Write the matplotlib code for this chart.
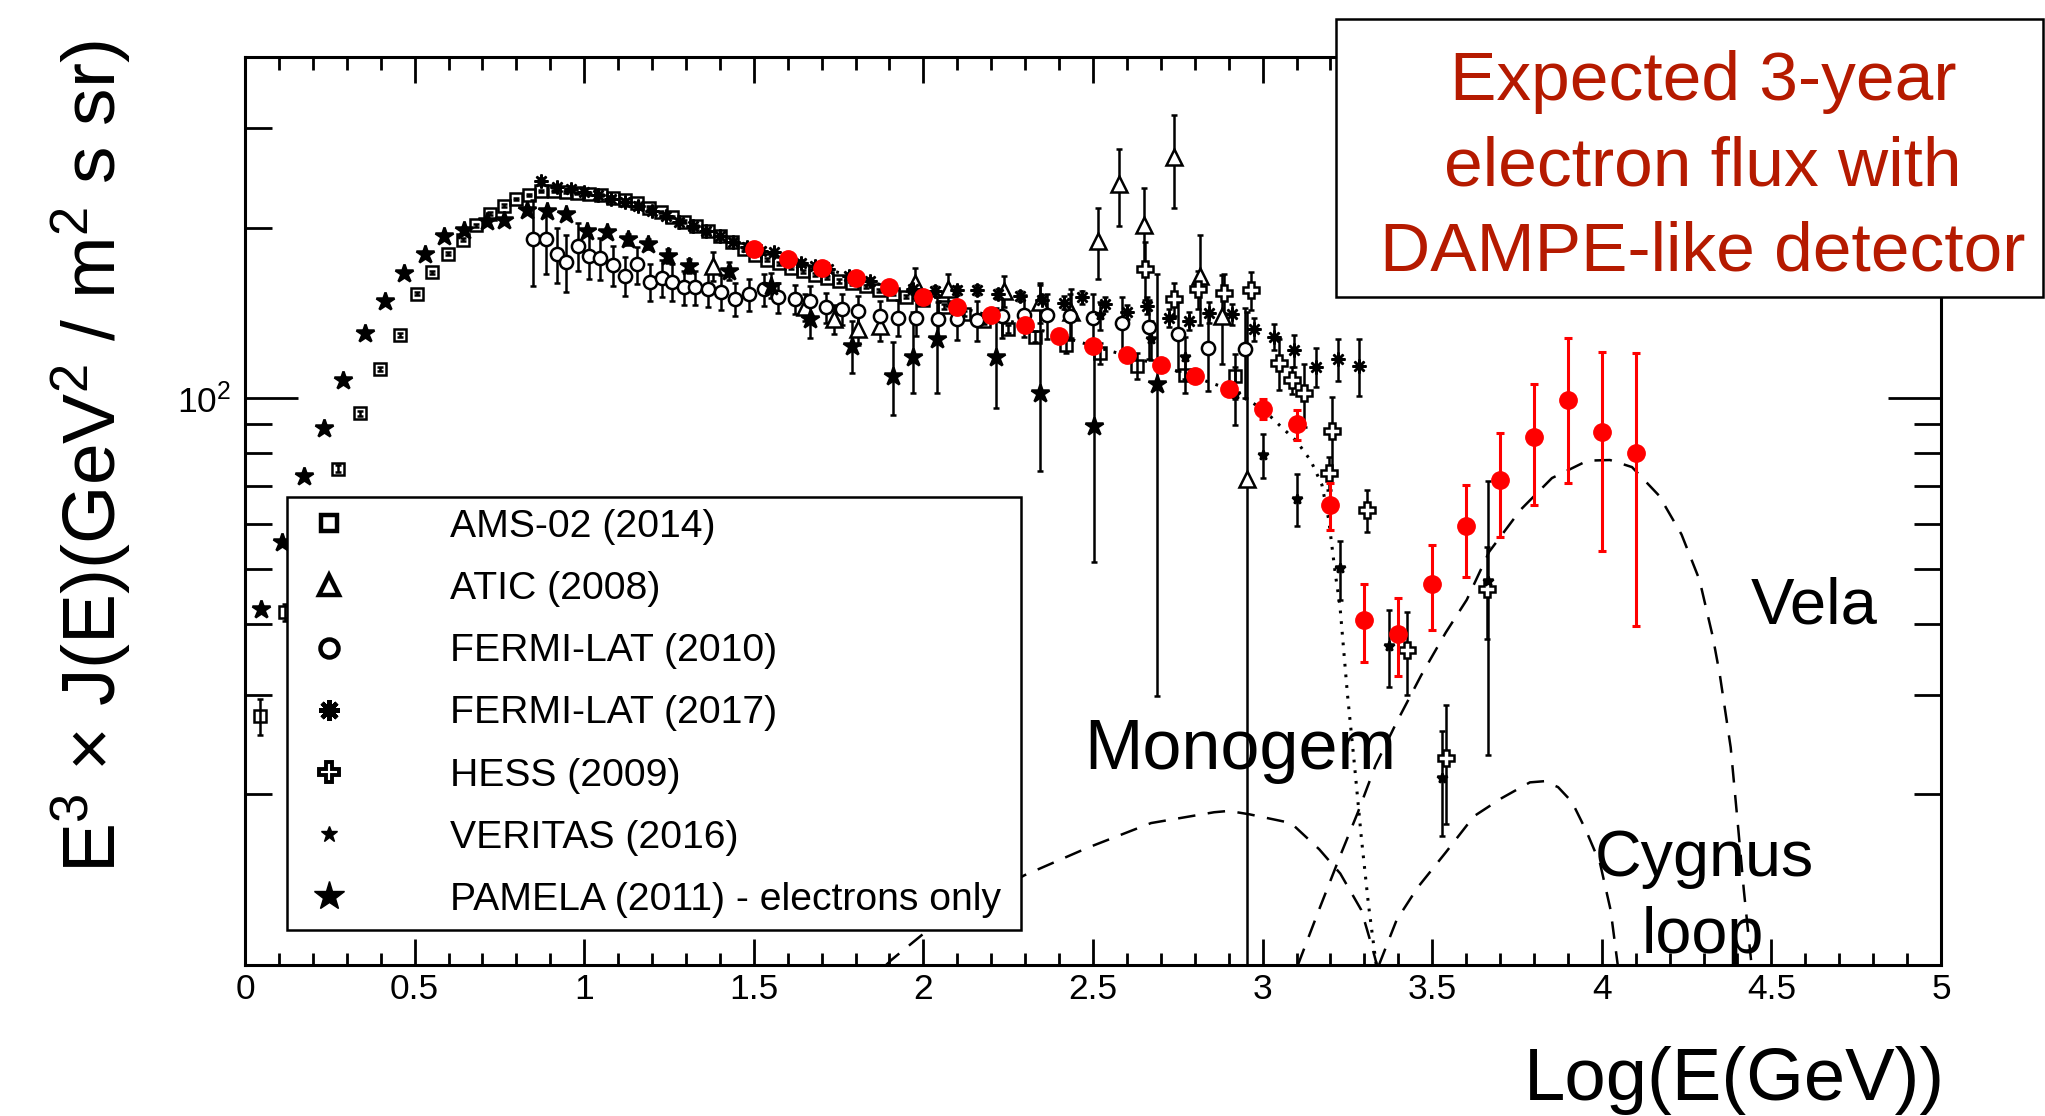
import matplotlib
matplotlib.use("Agg")
import matplotlib.pyplot as plt
from matplotlib.lines import Line2D
from matplotlib.patches import Rectangle
from matplotlib.ticker import FixedLocator, FixedFormatter, MultipleLocator, FormatStrFormatter

plt.rcParams['font.family'] = ['Liberation Sans', 'DejaVu Sans']
plt.rcParams['mathtext.fontset'] = 'custom'
plt.rcParams['mathtext.rm'] = 'Liberation Sans'
plt.rcParams['mathtext.it'] = 'Liberation Sans:italic'
plt.rcParams['mathtext.default'] = 'regular'

# ---- data (x = log10(E/GeV), y = E^3 J(E)) ----
# AMS-02 (2014)
ams_x = [0.045, 0.117, 0.17, 0.225, 0.274, 0.339, 0.398, 0.457, 0.506, 0.552,
         0.598, 0.643, 0.682, 0.722, 0.765, 0.80, 0.837, 0.873, 0.91, 0.945,
         0.98, 1.015, 1.05, 1.085, 1.12, 1.155, 1.19, 1.225, 1.26, 1.295,
         1.33, 1.365, 1.40, 1.435, 1.47, 1.505, 1.54, 1.575, 1.61, 1.645,
         1.68, 1.715, 1.75, 1.79, 1.83, 1.87, 1.91, 1.95, 2.0, 2.06,
         2.12, 2.18, 2.25, 2.33, 2.42, 2.52, 2.63, 2.77, 2.92]
ams_y = [27.5, 41.9, 52, 63, 75.1, 94, 112.7, 129.4, 152.8, 166.7,
         179.8, 190.5, 201.9, 211.8, 218.8, 224.3, 228, 231.8, 232, 231,
         230, 229, 228, 226, 224, 221, 217, 213, 209, 205,
         201, 197, 193, 189, 183, 179, 175.5, 173, 170, 167.5,
         165, 163, 161, 159.5, 157.5, 155, 153, 151, 149, 145,
         141, 137, 132.5, 128.5, 124, 120, 114, 110, 109.5]
ams_err = [2, 1.5, 1, 1, 1, 1, 1, 1, 1, 1,
           1, 1, 1, 1, 1, 1, 1, 1, 1, 1,
           1, 1, 1, 1, 1, 1, 1, 1, 1, 1,
           1, 1, 1, 1, 1, 1, 1, 1, 1, 1,
           1, 1, 1, 1, 1, 1, 1, 1, 1.5, 1.5,
           1.5, 2, 2, 3, 4, 5, 6, 8, 10]

# ATIC (2008)
atic_x = [1.38, 1.651, 1.737, 1.807, 1.872, 1.974, 2.072, 2.237, 2.343, 2.435,
          2.514, 2.576, 2.65, 2.74, 2.815, 2.879, 2.954]
atic_y = [171, 144.6, 137.8, 132.3, 134.3, 160, 155.6, 154.6, 147.9, 141.9,
          189.2, 238.3, 201.8, 266.6, 164.4, 139.7, 72]
atic_err = [10, 8, 8, 8, 8, 10, 10, 10, 12, 14,
            27, 37, 33, 50, 30, 25, 70]

# FERMI-LAT (2010)
f10_x = [0.85, 0.886, 0.919, 0.946, 0.982, 1.015, 1.048, 1.085, 1.12, 1.157,
         1.193, 1.228, 1.259, 1.294, 1.327, 1.366, 1.404, 1.445, 1.485, 1.531,
         1.57, 1.621, 1.665, 1.714, 1.761, 1.807, 1.872, 1.925, 1.978, 2.043,
         2.1, 2.158, 2.231, 2.297, 2.363, 2.432, 2.5, 2.586, 2.665, 2.751,
         2.839, 2.948]
f10_y = [190.6, 190.6, 180, 174, 185.9, 178, 176.5, 171.5, 164.4, 172.2,
         160.6, 163, 160.5, 157, 157, 155.6, 154, 149.6, 152.5, 155.6,
         150.6, 149.6, 148.6, 144.6, 143.6, 142.6, 139.7, 138.8, 138.8, 137.8,
         137.8, 137.4, 139.7, 140, 140, 139.7, 138.8, 136, 133.3, 129.8,
         122.8, 122]
f10_err = [33, 25, 20, 20, 18, 16, 15, 14, 13, 13,
           12, 12, 12, 11, 11, 11, 11, 10, 10, 10,
           9, 9, 9, 9, 9, 9, 9, 10, 10, 10,
           11, 11, 12, 12, 13, 13, 14, 15, 16, 18,
           20, 22]

# FERMI-LAT (2017)
f17_x = [0.873, 0.92, 0.96, 1.0, 1.04, 1.08, 1.12, 1.16, 1.2, 1.24,
         1.28, 1.32, 1.36, 1.40, 1.44, 1.48, 1.52, 1.56, 1.60, 1.64,
         1.68, 1.72, 1.78, 1.843, 1.90, 1.97, 2.034, 2.10, 2.158, 2.22,
         2.284, 2.35, 2.415, 2.468, 2.534, 2.6, 2.659, 2.724, 2.783, 2.842,
         2.909, 2.975, 3.034, 3.093, 3.157, 3.221, 3.283]
f17_y = [241.5, 236, 234, 231, 228, 225, 222, 218, 214, 210,
         205, 201, 197, 193, 189, 185, 182, 180.8, 176, 173,
         171, 169, 164, 161, 158, 156, 154.6, 155, 155.2, 153,
         151.4, 149, 147.5, 150.6, 146.6, 141.9, 145.6, 138.8, 136.9, 141.6,
         140.6, 132.3, 128.4, 121.4, 113.7, 117.3, 114]
f17_err = [3, 2, 2, 2, 2, 2, 2, 2, 2, 2,
           2, 2, 2, 2, 2, 2, 2, 2, 2, 2,
           2, 2, 2, 2, 2, 3, 3, 3, 3, 3,
           3, 3, 4, 4, 4, 4, 5, 5, 5, 6,
           6, 6, 7, 8, 9, 10, 13]

# HESS (2009)
hess_x = [2.652, 2.738, 2.81, 2.885, 2.966, 3.047, 3.087, 3.123, 3.196, 3.205,
          3.307, 3.426, 3.54, 3.662]
hess_y = [169, 149.6, 155.6, 153.5, 155, 115.3, 107.7, 102, 73.8, 87.4,
          63.5, 36, 23.2, 46.1]
hess_err = [20, 10, 12, 12, 12, 12, 6, 13, 5, 13,
            5.5, 6, 5.5, 8.5]

# VERITAS (2016)
ver_x = [2.52, 2.67, 2.77, 2.92, 3.0, 3.1, 3.227, 3.374, 3.529, 3.665]
ver_y = [140, 127, 118, 101.7, 79.4, 66.4, 50.1, 36.6, 21.4, 47.5]
ver_err = [8, 10, 10, 12, 7, 7, 6, 5.7, 4.5, 24]

# PAMELA (2011) - electrons only
pam_x = [0.047, 0.11, 0.173, 0.232, 0.289, 0.353, 0.412, 0.469, 0.532, 0.587,
         0.646, 0.712, 0.765, 0.83, 0.89, 0.946, 1.008, 1.066, 1.128, 1.188,
         1.247, 1.31, 1.428, 1.55, 1.665, 1.79, 1.91, 1.97, 2.04, 2.215,
         2.345, 2.503, 2.69]
pam_y = [42.5, 55.7, 72.9, 88.7, 107.8, 130.2, 148.4, 166, 180, 193.5,
         198.3, 205.6, 206.2, 214.6, 214.1, 211, 197, 196.3, 190.6, 187,
         178.3, 171, 167.6, 158, 137.8, 123.6, 109.5, 118, 127, 118,
         102.3, 89.4, 105.8]
pam_lo = [0.5, 0.5, 1, 1, 1, 1.5, 1.5, 2, 2, 2,
          2, 2, 2, 2.5, 2.5, 3, 3, 3, 4, 4,
          5, 5, 6, 8, 10, 13, 16, 16, 25, 22,
          28, 38, 76]
pam_hi = [0.5, 0.5, 1, 1, 1, 1.5, 1.5, 2, 2, 2,
          2, 2, 2, 2.5, 2.5, 3, 3, 3, 4, 4,
          5, 5, 6, 8, 10, 13, 16, 24, 24, 26,
          56, 34, 60]

# expected 3-year DAMPE-like measurement
red_x = [1.5, 1.6, 1.7, 1.8, 1.9, 2.0, 2.1, 2.2, 2.3, 2.4,
         2.5, 2.6, 2.7, 2.8, 2.9, 3.0, 3.1, 3.2, 3.3, 3.4,
         3.5, 3.6, 3.7, 3.8, 3.9, 4.0, 4.1]
red_y = [183.5, 176, 170, 163, 157, 151, 145, 140, 134.5, 129,
         123.6, 119, 114.3, 109.3, 103.8, 95.8, 90, 64.8, 40.6, 38.4,
         47, 59.4, 71.8, 85.3, 99.2, 87.3, 80]
red_err = [0.8, 0.8, 0.8, 0.8, 0.9, 0.9, 1, 1, 1.1, 1.2,
           1.3, 1.4, 1.6, 1.8, 2.2, 3.8, 5.5, 6.2, 6.4, 6,
           8, 11, 15, 20.5, 28.3, 33.5, 40.4]

# model curves
bkg_x = [1.5, 1.7, 1.9, 2.1, 2.3, 2.5, 2.7, 2.9, 3.0, 3.05,
         3.1, 3.142, 3.175, 3.195, 3.214, 3.228, 3.25, 3.271, 3.291, 3.312, 3.335]
bkg_y = [183.5, 170, 157, 145, 134.5, 123.6, 114.3, 103.8, 95.8, 89.6,
         84, 77.6, 70.3, 61, 49.2, 43, 30.1, 22.5, 16.8, 12.8, 10]
mono_x = [1.89, 1.905, 2.019, 2.298, 2.484, 2.671, 2.857, 2.9, 2.96, 3.084,
          3.167, 3.229, 3.291, 3.322, 3.337]
mono_y = [10, 10.2, 11.6, 14.4, 16.1, 17.8, 18.6, 18.7, 18.45, 17.8,
          16, 14.5, 12.5, 10.8, 10]
vela_x = [3.104, 3.166, 3.229, 3.281, 3.333, 3.395, 3.467, 3.54, 3.602, 3.668,
          3.761, 3.853, 3.958, 4.024, 4.089, 4.169, 4.235, 4.288, 4.327, 4.348,
          4.38, 4.4, 4.419, 4.44]
vela_y = [10, 12.5, 15.6, 18.6, 22.5, 26.8, 32.4, 38.6, 44.1, 53.6,
          63.6, 72.3, 77.6, 77.8, 75.6, 67.3, 57.5, 47.8, 38, 32.5,
          24.2, 18, 13.5, 10.2]
cyg_x = [3.343, 3.395, 3.457, 3.54, 3.623, 3.705, 3.788, 3.83, 3.871, 3.912,
         3.953, 3.995, 4.026, 4.047]
cyg_y = [10, 12, 13.7, 15.8, 18.3, 19.7, 21, 21.1, 20.6, 19.4,
         17.3, 15.1, 12.5, 10]

labels = ['AMS-02 (2014)', 'ATIC (2008)', 'FERMI-LAT (2010)', 'FERMI-LAT (2017)',
          'HESS (2009)', 'VERITAS (2016)', 'PAMELA (2011) - electrons only']

W, H = 2045, 1116
fig = plt.figure(figsize=(W / 100, H / 100), dpi=100)
ax = fig.add_axes([245 / W, 1 - 965 / H, (1941 - 245) / W, (965 - 57) / H])
ax.set_yscale('log')
ax.set_xlim(0, 5)
ax.set_ylim(10, 400)

dash = (0, (7, 5))
ax.plot(bkg_x, bkg_y, color='k', lw=2.2, ls=(0, (0.9, 2.6)), zorder=2)
ax.plot(mono_x, mono_y, color='k', lw=1.8, ls=dash, zorder=2)
ax.plot(vela_x, vela_y, color='k', lw=1.8, ls=dash, zorder=2)
ax.plot(cyg_x, cyg_y, color='k', lw=1.8, ls=dash, zorder=2)

ebar = dict(ls='none', color='k', ecolor='k', elinewidth=1.8, capsize=2.5,
            capthick=1.8, mec='k', mew=1.8, zorder=3)
ax.errorbar(ams_x, ams_y, yerr=ams_err, marker='s', ms=9, mfc='none', **ebar)
ax.errorbar(atic_x, atic_y, yerr=atic_err, marker='^', ms=11, mfc='white', **ebar)
ax.errorbar(f10_x, f10_y, yerr=f10_err, marker='o', ms=9.5, mfc='white', **ebar)
ax.errorbar(f17_x, f17_y, yerr=f17_err, marker=(8, 2, 0), ms=10, **ebar)
ax.errorbar(hess_x, hess_y, yerr=hess_err, marker='P', ms=11, mfc='white', **ebar)
ax.errorbar(ver_x, ver_y, yerr=ver_err, marker='*', ms=7, mfc='k', **ebar)
ax.errorbar(pam_x, pam_y, yerr=[pam_lo, pam_hi], marker='*', ms=13.5, mfc='k', **ebar)

ax.errorbar(red_x, red_y, yerr=red_err, ls='none', marker='o', ms=12.5, color='#ff0000',
            mec='#ff0000', elinewidth=2.2, capsize=3, capthick=2.2, zorder=4)

# source labels
ax.text(2.473, 22.2, 'Monogem', fontsize=50.5, ha='left', va='baseline', zorder=5)
ax.text(4.44, 40.1, 'Vela', fontsize=47, ha='left', va='baseline', zorder=5)
ax.text(3.98, 14.36, 'Cygnus', fontsize=46.5, ha='left', va='baseline', zorder=5)
ax.text(4.118, 10.5, 'loop', fontsize=46.5, ha='left', va='baseline', zorder=5)

# axes styling
ax.xaxis.set_major_locator(MultipleLocator(0.5))
ax.xaxis.set_minor_locator(MultipleLocator(0.1))
ax.xaxis.set_major_formatter(FormatStrFormatter('%g'))
ax.yaxis.set_major_locator(FixedLocator([100]))
ax.yaxis.set_major_formatter(FixedFormatter(['10$^{2}$']))
ax.yaxis.set_minor_locator(FixedLocator([20, 30, 40, 50, 60, 70, 80, 90, 200, 300]))
ax.yaxis.set_minor_formatter(FixedFormatter([''] * 10))
ax.tick_params(which='both', direction='in', top=True, right=True, width=2, labelsize=25.5)
ax.xaxis.set_tick_params(which='major', length=18.5, pad=6)
ax.xaxis.set_tick_params(which='minor', length=9)
ax.yaxis.set_tick_params(which='major', length=38, pad=10)
ax.yaxis.set_tick_params(which='minor', length=19.5)
for s in ax.spines.values():
    s.set_linewidth(2.2)

fig.text(1945 / W, 1 - 1100 / H, 'Log(E(GeV))', fontsize=53.5, ha='right', va='baseline')
fig.text(92 / W, 1 - 40 / H, 'E$^{3}$ × J(E)(GeV$^{2}$ / m$^{2}$ s sr)',
         fontsize=54, rotation=90, ha='center', va='top')

# legend (box spans x 287-1021, y 497-929 px)
handles = [
    Line2D([], [], ls='none', marker='s', ms=12, mfc='none', mec='k', mew=3.2),
    Line2D([], [], ls='none', marker='^', ms=14, mfc='none', mec='k', mew=3.2),
    Line2D([], [], ls='none', marker='o', ms=13, mfc='none', mec='k', mew=3.2),
    Line2D([], [], ls='none', marker=(8, 2, 0), ms=15, mec='k', mew=3.2),
    Line2D([], [], ls='none', marker='P', ms=15, mfc='white', mec='k', mew=2.8),
    Line2D([], [], ls='none', marker='*', ms=12, mfc='k', mec='k'),
    Line2D([], [], ls='none', marker='*', ms=22, mfc='k', mec='k'),
]
leg = ax.legend(handles, labels, loc='upper left',
                bbox_to_anchor=(287 / W, 1 - 929 / H, 734 / W, 432 / H), mode='expand',
                bbox_transform=fig.transFigure, fontsize=28.2, frameon=True, fancybox=False,
                edgecolor='k', framealpha=1, borderpad=0.3, labelspacing=0.67,
                handlelength=1.54, handletextpad=2.32, borderaxespad=0)
leg.get_frame().set_linewidth(1.8)
leg.set_zorder(20)

# red annotation box
fig.add_artist(Rectangle((1336 / W, 1 - 297 / H), (2043 - 1336) / W, 278 / H,
                         transform=fig.transFigure, fc='white', ec='k', lw=1.8, zorder=5))
red = '#b51a00'
for line, base in [('Expected 3-year', 100), ('electron flux with', 185),
                   ('DAMPE-like detector', 271)]:
    fig.text(1703 / W, 1 - base / H, line, fontsize=50, color=red,
             ha='center', va='baseline', zorder=6)

fig.savefig('out.png', dpi=100)
